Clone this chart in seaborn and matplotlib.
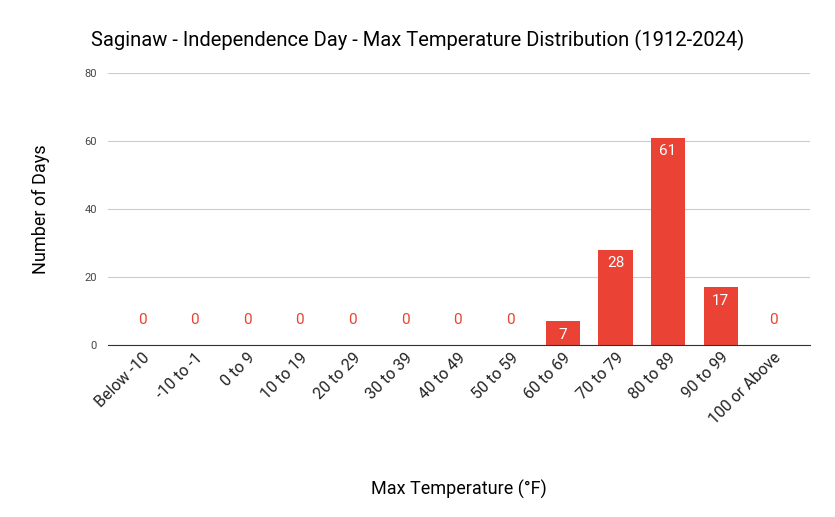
import matplotlib
matplotlib.use("Agg")
import matplotlib.pyplot as plt
import seaborn as sns
import pandas as pd

categories = ["Below -10", "-10 to -1", "0 to 9", "10 to 19", "20 to 29", "30 to 39",
              "40 to 49", "50 to 59", "60 to 69", "70 to 79", "80 to 89", "90 to 99", "100 or Above"]
counts = [0, 0, 0, 0, 0, 0, 0, 0, 7, 28, 61, 17, 0]
yticks = [0, 20, 40, 60, 80]

plt.rcParams["font.family"] = "Roboto"
df = pd.DataFrame({"cat": categories, "n": counts})
fig = plt.figure(figsize=(8.35, 5.17), dpi=100)
ax = fig.add_axes([108/835, 1-345/517, 702/835, 272/517])
red = "#EA4335"
sns.barplot(data=df, x="cat", y="n", color=red, width=0.65, saturation=1, ax=ax)
ax.set_xlim(-0.65, 12.7)
ax.set_ylim(0, 80)
ax.set_yticks(yticks)
ax.grid(axis="y", color="#cccccc", lw=0.8)
ax.set_axisbelow(True)
for s in ["top", "right", "left"]:
    ax.spines[s].set_visible(False)
ax.spines["bottom"].set_color("#333333")
ax.tick_params(axis="y", length=0, labelsize=8, colors="#444444", pad=8)
ax.tick_params(axis="x", length=0, labelsize=11.5, colors="#222222")
plt.setp(ax.get_xticklabels(), rotation=45, ha="right", rotation_mode="anchor")
for i, v in enumerate(counts):
    if v == 0:
        ax.text(i, 7.5, "0", ha="center", va="center", color=red, fontsize=11)
    else:
        ax.text(i, v - 4, str(v), ha="center", va="center", color="white", fontsize=11)
ax.set_xlabel("Max Temperature (°F)", fontsize=13, labelpad=38)
ax.set_ylabel("Number of Days", fontsize=13, labelpad=25)
fig.suptitle("Saginaw - Independence Day - Max Temperature Distribution (1912-2024)",
             x=418/835, y=1-40/517, fontsize=14.5, va="center")
fig.savefig("out.png", dpi=100)
